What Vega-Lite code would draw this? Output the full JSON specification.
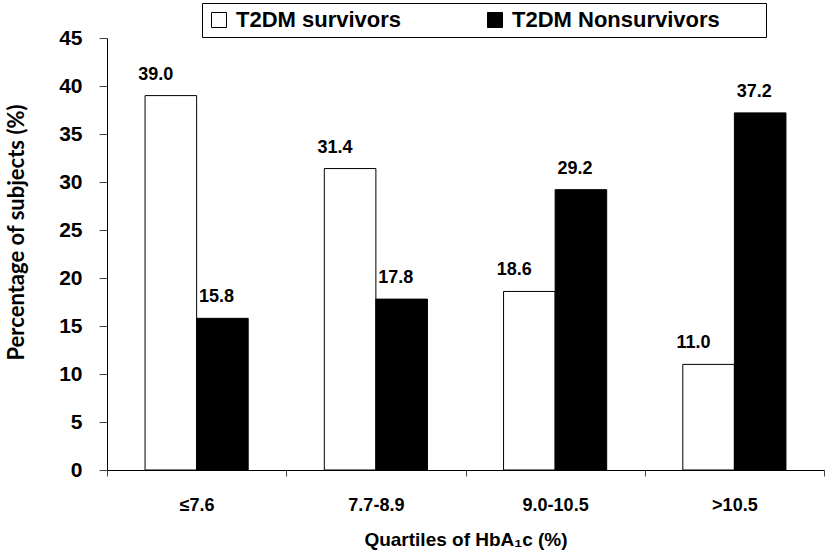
{
  "$schema": "https://vega.github.io/schema/vega-lite/v6.json",
  "width": 717,
  "height": 432,
  "autosize": {"type": "none"},
  "padding": {"left": 107, "top": 38, "right": 3, "bottom": 85},
  "background": "white",
  "config": {
    "view": {"stroke": null},
    "font": "Liberation Sans",
    "axis": {"grid": false, "domainColor": "#000000", "tickColor": "#555555", "labelColor": "#000000", "titleColor": "#000000"}
  },
  "data": {
    "values": [
      {"quartile": "≤7.6", "group": "T2DM survivors", "pct": 39.0},
      {"quartile": "≤7.6", "group": "T2DM Nonsurvivors", "pct": 15.8},
      {"quartile": "7.7-8.9", "group": "T2DM survivors", "pct": 31.4},
      {"quartile": "7.7-8.9", "group": "T2DM Nonsurvivors", "pct": 17.8},
      {"quartile": "9.0-10.5", "group": "T2DM survivors", "pct": 18.6},
      {"quartile": "9.0-10.5", "group": "T2DM Nonsurvivors", "pct": 29.2},
      {"quartile": ">10.5", "group": "T2DM survivors", "pct": 11.0},
      {"quartile": ">10.5", "group": "T2DM Nonsurvivors", "pct": 37.2}
    ]
  },
  "encoding": {
    "x": {
      "field": "quartile", "type": "nominal",
      "sort": ["≤7.6", "7.7-8.9", "9.0-10.5", ">10.5"],
      "scale": {"paddingInner": 0, "paddingOuter": 0},
      "axis": {
        "title": "Quartiles of HbA₁c (%)",
        "titleFont": "Liberation Sans", "titleFontSize": 19, "titleFontWeight": "bold", "titlePadding": 16,
        "labelAngle": 0, "labelFontSize": 18, "labelFontWeight": "bold", "labelPadding": 20,
        "tickBand": "extent", "tickSize": 6, "tickColor": "#444444"
      }
    },
    "xOffset": {
      "field": "group", "type": "nominal",
      "sort": ["T2DM survivors", "T2DM Nonsurvivors"],
      "scale": {"paddingInner": 0, "paddingOuter": 0.738}
    },
    "y": {
      "field": "pct", "type": "quantitative",
      "scale": {"domain": [0, 45], "nice": false},
      "axis": {
        "title": "Percentage of subjects (%)",
        "titleFont": "Lato", "titleFontSize": 22, "titleFontWeight": "bold", "titlePadding": 30,
        "titleY": 194,
        "values": [0, 5, 10, 15, 20, 25, 30, 35, 40, 45],
        "labelFontSize": 21, "labelFontWeight": "bold", "labelPadding": 17,
        "tickSize": 8, "tickColor": "#444444"
      }
    }
  },
  "layer": [
    {
      "mark": {"type": "bar", "stroke": "#000000", "strokeWidth": 1},
      "encoding": {
        "fill": {
          "field": "group", "type": "nominal",
          "sort": ["T2DM survivors", "T2DM Nonsurvivors"],
          "scale": {"domain": ["T2DM survivors", "T2DM Nonsurvivors"], "range": ["#ffffff", "#000000"]},
          "legend": {
            "title": " ",
            "titleOrient": "right",
            "titlePadding": 40,
            "titleFontSize": 10,
            "orient": "none",
            "legendX": 95,
            "legendY": -35,
            "direction": "horizontal",
            "strokeColor": "#000000",
            "fillColor": "#ffffff",
            "padding": 6,
            "symbolType": "square",
            "symbolSize": 225,
            "symbolStrokeColor": "#000000",
            "symbolStrokeWidth": 1,
            "labelFontSize": 22,
            "labelFontWeight": "bold",
            "labelColor": "#000000",
            "labelLimit": 300,
            "labelOffset": 6,
            "columnPadding": 82
          }
        }
      }
    },
    {
      "transform": [{"filter": "datum.group === 'T2DM survivors'"}],
      "mark": {"type": "text", "baseline": "alphabetic", "dy": -16, "dx": -15, "fontSize": 18, "fontWeight": "bold", "color": "#000000"},
      "encoding": {"text": {"field": "pct", "type": "quantitative", "format": ".1f"}}
    },
    {
      "transform": [{"filter": "datum.group === 'T2DM Nonsurvivors'"}],
      "mark": {"type": "text", "baseline": "alphabetic", "dy": -16, "dx": -6, "fontSize": 18, "fontWeight": "bold", "color": "#000000"},
      "encoding": {"text": {"field": "pct", "type": "quantitative", "format": ".1f"}}
    }
  ]
}
